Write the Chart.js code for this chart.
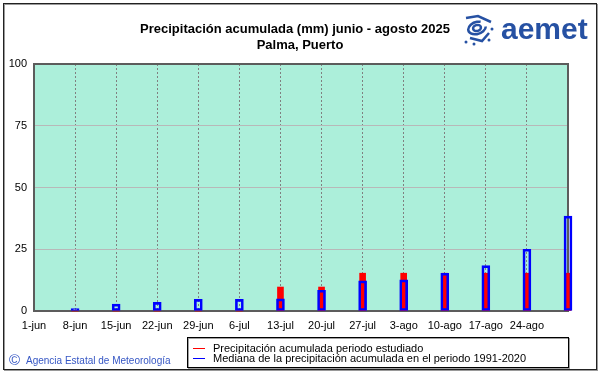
<!DOCTYPE html>
<html><head><meta charset="utf-8">
<script src="https://cdn.jsdelivr.net/npm/chart.js@4/dist/chart.umd.min.js"></script>
<style>html,body{margin:0;padding:0;background:#fff}canvas{display:block}</style>
</head><body>
<canvas id="c" width="601" height="374"></canvas>
<script>
const weeks = ['1-jun','8-jun','15-jun','22-jun','29-jun','6-jul','13-jul','20-jul','27-jul','3-ago','10-ago','17-ago','24-ago','31-ago'];
const studied = [null, 0, 0, 0, 0, 0, 9.7, 9.7, 15.3, 15.3, 15.3, 15.3, 15.3, 15.3];
const median = [null, 1.0, 2.8, 3.5, 4.7, 4.7, 4.9, 8.4, 12.2, 12.6, 15.3, 18.4, 25.0, 38.4];
const yTicks = [0, 25, 50, 75, 100];
const titleLines = ['Precipitación acumulada (mm) junio - agosto 2025', 'Palma, Puerto'];
const legendLabels = ['Precipitación acumulada periodo estudiado', 'Mediana de la precipitación acumulada en el periodo 1991-2020'];
const credit = 'Agencia Estatal de Meteorología';

const FONT = '"Liberation Sans", Arial, sans-serif';
Chart.defaults.font.family = FONT;
Chart.defaults.font.size = 11;
Chart.defaults.color = '#000';

const deco = {
  id: 'deco',
  beforeDraw(chart) {
    const ctx = chart.ctx, a = chart.chartArea;
    ctx.save();
    ctx.fillStyle = '#fff';
    ctx.fillRect(0, 0, chart.width, chart.height);
    // outer frame
    ctx.strokeStyle = '#9a9a9a';
    ctx.lineWidth = 1;
    ctx.strokeRect(4.5, 4.5, 593, 366);
    ctx.strokeStyle = '#222';
    ctx.strokeRect(3.5, 3.5, 593, 366);
    // plot background
    ctx.fillStyle = '#acefda';
    ctx.fillRect(a.left, a.top, a.right - a.left, a.bottom - a.top);
    ctx.restore();
  },
  beforeDatasetsDraw(chart) {
    const ctx = chart.ctx, a = chart.chartArea;
    ctx.save();
    ctx.strokeStyle = '#5c5c5c';
    ctx.lineWidth = 2;
    ctx.strokeRect(a.left, a.top, a.right - a.left, a.bottom - a.top);
    ctx.restore();
  },
  afterDraw(chart) {
    const ctx = chart.ctx;
    ctx.save();
    // title
    ctx.fillStyle = '#000';
    ctx.font = 'bold 13px ' + FONT;
    ctx.textAlign = 'center';
    ctx.textBaseline = 'middle';
    ctx.fillText(titleLines[0], 295, 29);
    ctx.fillText(titleLines[1], 300, 45);
    // logo text
    ctx.fillStyle = '#2651a3';
    ctx.font = 'bold 30px ' + FONT;
    ctx.textAlign = 'left';
    ctx.textBaseline = 'alphabetic';
    ctx.fillText('aemet', 501, 39);
    // logo icon
    ctx.strokeStyle = '#2651a3';
    ctx.lineWidth = 2.5;
    ctx.beginPath(); ctx.moveTo(466, 18); ctx.lineTo(478, 16); ctx.lineTo(491, 22); ctx.stroke();
    ctx.beginPath(); ctx.ellipse(477, 28, 9, 6, -0.3, 0.2, Math.PI * 1.7); ctx.stroke();
    ctx.beginPath(); ctx.ellipse(477, 28, 4, 3, -0.3, 0, Math.PI * 2); ctx.stroke();
    ctx.beginPath(); ctx.moveTo(470, 38); ctx.lineTo(482, 41); ctx.lineTo(489, 33); ctx.stroke();
    ctx.fillStyle = '#2651a3';
    [[466, 42], [492, 29], [474, 44], [489, 40]].forEach(p => { ctx.beginPath(); ctx.arc(p[0], p[1], 1.5, 0, Math.PI * 2); ctx.fill(); });
    // legend box
    ctx.fillStyle = '#fff';
    ctx.fillRect(187, 337, 381, 30);
    ctx.strokeStyle = '#a0a0a0';
    ctx.lineWidth = 1;
    ctx.strokeRect(188.5, 338.5, 381, 30);
    ctx.strokeStyle = '#000';
    ctx.strokeRect(187.5, 337.5, 381, 30);
    ctx.strokeStyle = '#ff0000';
    ctx.beginPath(); ctx.moveTo(193, 348.5); ctx.lineTo(205, 348.5); ctx.stroke();
    ctx.strokeStyle = '#0000ff';
    ctx.beginPath(); ctx.moveTo(193, 358.5); ctx.lineTo(205, 358.5); ctx.stroke();
    ctx.fillStyle = '#000';
    ctx.font = '11px ' + FONT;
    ctx.textBaseline = 'middle';
    ctx.fillText(legendLabels[0], 213, 348.5);
    ctx.fillText(legendLabels[1], 213, 358.5);
    // credit
    ctx.fillStyle = '#3556c4';
    ctx.font = '15px ' + FONT;
    ctx.fillText('©', 9, 361);
    ctx.font = '10px ' + FONT;
    ctx.fillText(credit, 26, 361);
    ctx.restore();
  }
};

new Chart(document.getElementById('c'), {
  type: 'bar',
  data: {
    labels: weeks,
    datasets: [
      {
        label: legendLabels[1],
        data: median,
        backgroundColor: 'rgba(0,0,0,0)',
        borderColor: '#0000ff',
        borderWidth: 2,
        borderSkipped: false,
        barThickness: 8,
        order: 0,
        clip: false
      },
      {
        label: legendLabels[0],
        data: studied,
        backgroundColor: '#ff0000',
        borderWidth: 0,
        barThickness: 6,
        order: 1,
        clip: false
      }
    ]
  },
  options: {
    responsive: false,
    devicePixelRatio: 1,
    animation: false,
    grouped: false,
    layout: { padding: { top: 64, right: 33, left: 0, bottom: 0 } },
    plugins: { legend: { display: false }, tooltip: { enabled: false }, title: { display: false } },
    scales: {
      x: {
        type: 'category',
        offset: false,
        grid: {
          offset: false,
          drawTicks: false,
          color: (c) => (c.index === 0 || c.index === weeks.length - 1) ? 'rgba(0,0,0,0)' : '#808080',
          lineWidth: 1
        },
        border: { display: false, dash: [2, 2] },
        ticks: {
          padding: 8,
          maxRotation: 0,
          autoSkip: false,
          color: '#000',
          font: { size: 11 },
          callback: (v, i) => i === weeks.length - 1 ? '' : weeks[i]
        },
        afterFit: (s) => { s.height = 63; }
      },
      y: {
        min: 0,
        max: 100,
        afterBuildTicks: (s) => { s.ticks = yTicks.map(v => ({ value: v })); },
        grid: {
          drawTicks: false,
          color: (c) => (c.tick.value === 0 || c.tick.value === 100) ? 'rgba(0,0,0,0)' : '#b8b8b8'
        },
        border: { display: false },
        ticks: { padding: 7, color: '#000', font: { size: 11 } },
        afterFit: (s) => { s.width = 34; }
      }
    }
  },
  plugins: [deco]
});
</script>
</body></html>
